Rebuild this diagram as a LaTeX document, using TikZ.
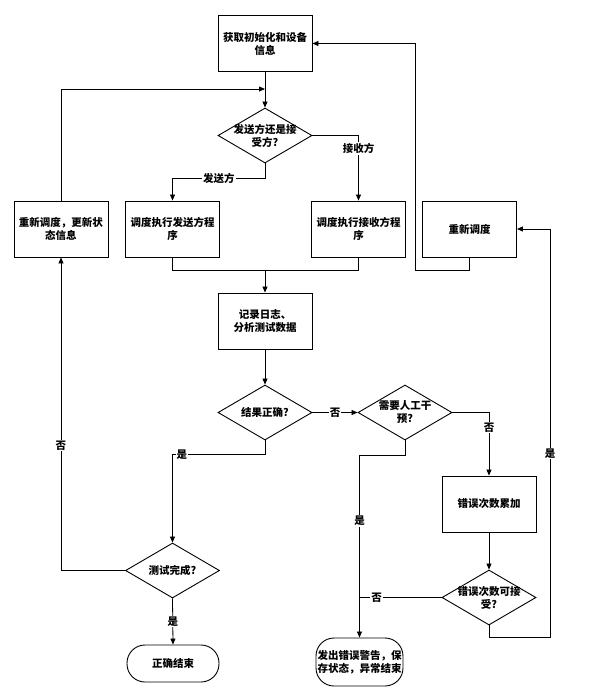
\documentclass[tikz,border=0pt]{standalone}
\usepackage{fontspec}
\setmainfont{Noto Sans CJK SC}
\usetikzlibrary{arrows.meta,shapes.geometric,calc}
\begin{document}
\begin{tikzpicture}[x=1pt,y=-1pt,
  every node/.style={font=\fontsize{10.5}{13}\selectfont\bfseries},
  box/.style={draw,line width=0.9pt,minimum width=94pt,minimum height=56pt,align=center,inner sep=1pt},
  dia/.style={draw,line width=0.9pt,diamond,minimum width=94pt,minimum height=55pt,inner sep=0pt},
  term/.style={draw,line width=0.9pt,rounded corners=18pt,align=center,inner sep=1pt},
  conn/.style={line width=0.8pt},
  arr/.style={conn,-{Triangle[length=6pt,width=5pt]}},
  lbl/.style={fill=white,inner sep=1pt}]
\useasboundingbox (0,0) rectangle (591,697);
% nodes
\node[box] (init) at (265,43.5) {获取初始化和设备\\信息};
\node[dia,label={[align=center]center:发送方还是接\\受方?}] (d1) at (265,135.5) {};
\node[box] (send) at (172.5,229) {调度执行发送方程\\序};
\node[box] (recv) at (358.5,229) {调度执行接收方程\\序};
\node[box] (res1) at (61,229) {重新调度，更新状\\态信息};
\node[box] (res2) at (469.5,229) {重新调度};
\node[box] (log) at (265,321) {记录日志、\\分析测试数据};
\node[dia,label={center:结果正确?}] (d2) at (265,412.5) {};
\node[dia,label={[align=center]center:需要人工干\\预?}] (d3) at (405,412.5) {};
\node[box] (errc) at (489,504) {错误次数累加};
\node[dia,label={[align=center]center:错误次数可接\\受?}] (d5) at (489,597.5) {};
\node[dia,label={center:测试完成?}] (d4) at (172.5,570.5) {};
\node[term,minimum width=92pt,minimum height=37pt] (end1) at (173,663.5) {正确结束};
\node[term,minimum width=87pt,minimum height=48pt] (end2) at (359.5,662) {发出错误警告，保\\存状态，异常结束};
% coordinates
\coordinate (m1) at (265,89);
\coordinate (j1) at (265,270);
\coordinate (r2a) at (415,270);
\coordinate (r5) at (550,637);
% connectors
\draw[arr] (init.south) -- (d1.north);
\draw[arr] (res1.north) |- (m1);
\draw[arr] (d1.south) -- ++(0,15) -| node[lbl,pos=0.25]{发送方} (send.north);
\draw[arr] (d1.east) -| node[lbl,pos=0.6]{接收方} (recv.north);
\draw[conn] (send.south) |- (j1);
\draw[conn] (recv.south) |- (j1);
\draw[arr] (j1) -- (log.north);
\draw[arr] (res2.south) |- (r2a) |- (init.east);
\draw[arr] (log.south) -- (d2.north);
\draw[arr] (d2.east) -- node[lbl]{否} (d3.west);
\draw[arr] (d3.east) -| node[lbl,pos=0.62]{否} (errc.north);
\draw[arr] (d3.south) -- ++(0,15) -| node[lbl,pos=0.68]{是} (end2.north);
\draw[arr] (d2.south) -- ++(0,14) -| node[lbl,pos=0.45]{是} (d4.north);
\draw[arr] (d4.west) -| node[lbl,pos=0.7]{否} (res1.south);
\draw[arr] (d4.south) -- node[lbl]{是} (end1.north);
\draw[arr] (errc.south) -- (d5.north);
\draw[conn] (d5.west) -- node[lbl,pos=0.79]{否} (d5.west -| end2.north);
\draw[arr] (d5.south) |- (r5) |- node[lbl,pos=0.225]{是} (res2.east);
\end{tikzpicture}
\end{document}
